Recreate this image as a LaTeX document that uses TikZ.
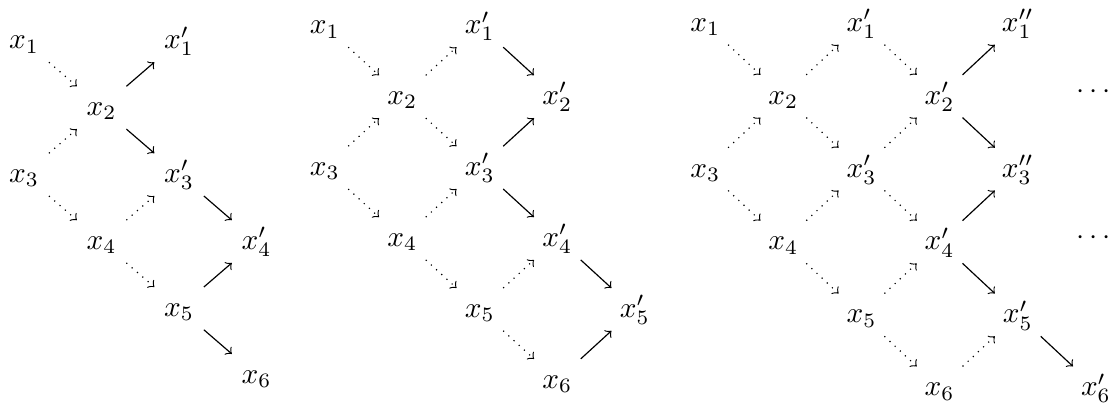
\documentclass[tikz,border=0pt]{standalone}
\usepackage{amsmath, amssymb}
\usetikzlibrary{positioning}

\begin{document}
\begin{tikzpicture}[
			node distance=0.803cm and 0.93cm, on grid,
			var/.style={text height=1.5ex, text depth=.25ex},
			arr/.style={->},
			darr/.style={->, dotted}]
			\useasboundingbox (0,0) rectangle (13.42,-4.91);
			% first diagram
			\node[var] (a1) at (0.29,-0.49) {$x_1$};
			\node[var, below right=of a1] (a2) {$x_2$};
			\node[var, above right=of a2] (a1p) {$x'_1$};
			\node[var, below left=of a2] (a3) {$x_3$};
			\node[var, below right=of a2] (a3p) {$x'_3$};
			\node[var, below right=of a3] (a4) {$x_4$};
			\node[var, below right=of a3p] (a4p) {$x'_4$};
			\node[var, below right=of a4] (a5) {$x_5$};
			\node[var, below right=of a5] (a6) {$x_6$};
			\draw[darr] (a1) -- (a2);
			\draw[darr] (a3) -- (a2);
			\draw[arr] (a2) -- (a1p);
			\draw[arr] (a2) -- (a3p);
			\draw[darr] (a3) -- (a4);
			\draw[darr] (a4) -- (a3p);
			\draw[arr] (a3p) -- (a4p);
			\draw[darr] (a4) -- (a5);
			\draw[arr] (a5) -- (a4p);
			\draw[arr] (a5) -- (a6);
			% second diagram
			\begin{scope}[node distance=0.851cm and 0.93cm]
			\node[var] (b1) at (3.9,-0.31) {$x_1$};
			\node[var, below right=of b1] (b2) {$x_2$};
			\node[var, above right=of b2] (b1p) {$x'_1$};
			\node[var, below right=of b1p] (b2p) {$x'_2$};
			\node[var, below left=of b2] (b3) {$x_3$};
			\node[var, below right=of b2] (b3p) {$x'_3$};
			\node[var, below right=of b3] (b4) {$x_4$};
			\node[var, below right=of b3p] (b4p) {$x'_4$};
			\node[var, below right=of b4] (b5) {$x_5$};
			\node[var, below right=of b4p] (b5p) {$x'_5$};
			\node[var, below right=of b5] (b6) {$x_6$};
			\end{scope}
			\draw[darr] (b1) -- (b2);
			\draw[darr] (b3) -- (b2);
			\draw[darr] (b2) -- (b1p);
			\draw[darr] (b2) -- (b3p);
			\draw[arr] (b1p) -- (b2p);
			\draw[arr] (b3p) -- (b2p);
			\draw[darr] (b3) -- (b4);
			\draw[darr] (b4) -- (b3p);
			\draw[arr] (b3p) -- (b4p);
			\draw[darr] (b4) -- (b5);
			\draw[darr] (b5) -- (b4p);
			\draw[arr] (b4p) -- (b5p);
			\draw[darr] (b5) -- (b6);
			\draw[arr] (b6) -- (b5p);
			% third diagram
			\begin{scope}[node distance=0.875cm and 0.938cm]
			\node[var] (c1) at (8.465,-0.28) {$x_1$};
			\node[var, below right=of c1] (c2) {$x_2$};
			\node[var, above right=of c2] (c1p) {$x'_1$};
			\node[var, below right=of c1p] (c2p) {$x'_2$};
			\node[var, above right=of c2p] (c1pp) {$x''_1$};
			\node[var, below left=of c2] (c3) {$x_3$};
			\node[var, below right=of c2] (c3p) {$x'_3$};
			\node[var, below right=of c2p] (c3pp) {$x''_3$};
			\node[var, below right=of c3] (c4) {$x_4$};
			\node[var, below right=of c3p] (c4p) {$x'_4$};
			\node[var, below right=of c4] (c5) {$x_5$};
			\node[var, below right=of c4p] (c5p) {$x'_5$};
			\node[var, below right=of c5] (c6) {$x_6$};
			\node[var, below right=of c5p] (c6p) {$x'_6$};
			\node[var, right=1.876cm of c2p, yshift=2pt] (cd1) {$\cdots$};
			\node[var, right=1.876cm of c4p, yshift=2pt] (cd2) {$\cdots$};
			\end{scope}
			\draw[darr] (c1) -- (c2);
			\draw[darr] (c3) -- (c2);
			\draw[darr] (c2) -- (c1p);
			\draw[darr] (c2) -- (c3p);
			\draw[darr] (c1p) -- (c2p);
			\draw[darr] (c3p) -- (c2p);
			\draw[arr] (c2p) -- (c1pp);
			\draw[arr] (c2p) -- (c3pp);
			\draw[darr] (c3) -- (c4);
			\draw[darr] (c4) -- (c3p);
			\draw[darr] (c3p) -- (c4p);
			\draw[arr] (c4p) -- (c3pp);
			\draw[darr] (c4) -- (c5);
			\draw[darr] (c5) -- (c4p);
			\draw[arr] (c4p) -- (c5p);
			\draw[darr] (c5) -- (c6);
			\draw[darr] (c6) -- (c5p);
			\draw[arr] (c5p) -- (c6p);
		\end{tikzpicture}
\end{document}
